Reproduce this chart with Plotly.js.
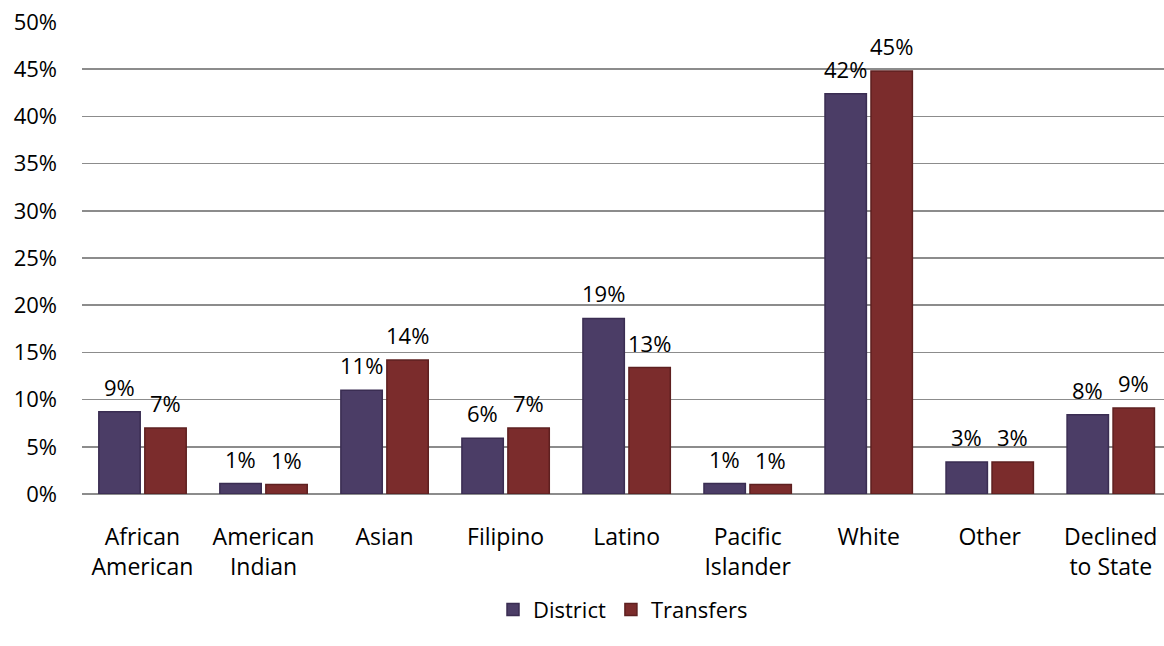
<!DOCTYPE html>
<html><head><meta charset="utf-8">
<script src="https://cdn.plot.ly/plotly-3.0.1.min.js"></script>
<style>html,body{margin:0;padding:0;background:#fff;overflow:hidden}</style>
</head><body>
<div id="chart" style="width:1164px;height:646px"></div>
<script>
const categories = ["African<br>American","American<br>Indian","Asian","Filipino","Latino","Pacific<br>Islander","White","Other","Declined<br>to State"];
const district = [8.7, 1.1, 11.0, 5.9, 18.6, 1.1, 42.4, 3.4, 8.4];
const transfers = [7.0, 1.0, 14.2, 7.0, 13.4, 1.0, 44.8, 3.4, 9.1];
const seriesNames = ["District", "Transfers"];
const yTicks = [0,5,10,15,20,25,30,35,40,45,50];

const BARGAP = 0.24, GROUPGAP = 0.1;
const font = {family: "'Open Sans', sans-serif", size: 22, color: "#000"};
function tr(name, vals, color, lineColor) {
  return {
    type: "bar", name: name, x: categories, y: vals,
    marker: {color: color, line: {color: lineColor, width: 1.5}},
    hoverinfo: "skip"
  };
}
const data = [
  tr(seriesNames[0], district, "#4b3d66", "#3a2d52"),
  tr(seriesNames[1], transfers, "#7b2c2c", "#5e2020")
];
const slot = (1 - BARGAP) / 2;
const annotations = [];
[district, transfers].forEach((vals, s) => {
  const off = (s === 0 ? -1 : 1) * slot / 2;
  vals.forEach((v, i) => {
    annotations.push({x: i + off, y: v, xref: "x", yref: "y", text: Math.round(v) + "%",
      showarrow: false, yanchor: "bottom", yshift: 8, font: font});
  });
});
const layout = {
  width: 1164, height: 646,
  margin: {l: 82, r: 0, t: 22, b: 152},
  paper_bgcolor: "#fff", plot_bgcolor: "#fff",
  font: font,
  barmode: "group", bargap: BARGAP, bargroupgap: GROUPGAP,
  xaxis: {range: [-0.5, 8.44], showgrid: false, zeroline: false, showline: false,
          ticks: "", tickfont: {family: font.family, size: 23, color: "#000"},
          ticklen: 0, ticklabelstandoff: 27},
  yaxis: {range: [0, 50], tickvals: yTicks, ticktext: yTicks.map(v => v + "%"),
          showgrid: true, gridcolor: "#8c8c8c", gridwidth: 1.5, zeroline: true,
          zerolinecolor: "#8c8c8c", zerolinewidth: 1.5, showline: false,
          ticks: "", tickfont: font, ticklabelstandoff: 24, fixedrange: true},
  annotations: annotations,
  showlegend: true,
  legend: {orientation: "h", x: 0.5, xanchor: "center", y: -0.245, yanchor: "middle",
           font: font, itemwidth: 30, traceorder: "normal"},
};
Plotly.newPlot("chart", data, layout, {displayModeBar: false, staticPlot: true});
</script>
</body></html>
